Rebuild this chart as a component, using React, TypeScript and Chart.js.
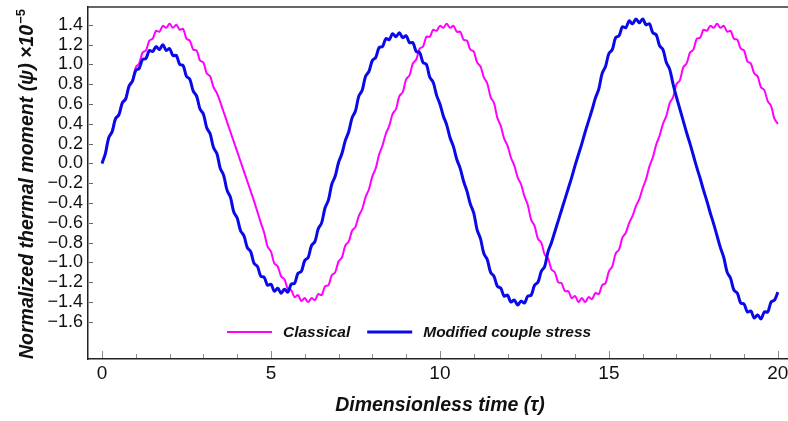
import React, { useEffect, useRef } from "react";
import { Chart, registerables } from "chart.js";

Chart.register(...registerables);

// Dimensionless time (tau)
const tau = [
  0, 0.1, 0.2, 0.3, 0.4, 0.5, 0.6, 0.7, 0.8, 0.9,
  1, 1.1, 1.2, 1.3, 1.4, 1.5, 1.6, 1.7, 1.8, 1.9,
  2, 2.1, 2.2, 2.3, 2.4, 2.5, 2.6, 2.7, 2.8, 2.9,
  3, 3.1, 3.2, 3.3, 3.4, 3.5, 3.6, 3.7, 3.8, 3.9,
  4, 4.1, 4.2, 4.3, 4.4, 4.5, 4.6, 4.7, 4.8, 4.9,
  5, 5.1, 5.2, 5.3, 5.4, 5.5, 5.6, 5.7, 5.8, 5.9,
  6, 6.1, 6.2, 6.3, 6.4, 6.5, 6.6, 6.7, 6.8, 6.9,
  7, 7.1, 7.2, 7.3, 7.4, 7.5, 7.6, 7.7, 7.8, 7.9,
  8, 8.1, 8.2, 8.3, 8.4, 8.5, 8.6, 8.7, 8.8, 8.9,
  9, 9.1, 9.2, 9.3, 9.4, 9.5, 9.6, 9.7, 9.8, 9.9,
  10, 10.1, 10.2, 10.3, 10.4, 10.5, 10.6, 10.7, 10.8, 10.9,
  11, 11.1, 11.2, 11.3, 11.4, 11.5, 11.6, 11.7, 11.8, 11.9,
  12, 12.1, 12.2, 12.3, 12.4, 12.5, 12.6, 12.7, 12.8, 12.9,
  13, 13.1, 13.2, 13.3, 13.4, 13.5, 13.6, 13.7, 13.8, 13.9,
  14, 14.1, 14.2, 14.3, 14.4, 14.5, 14.6, 14.7, 14.8, 14.9,
  15, 15.1, 15.2, 15.3, 15.4, 15.5, 15.6, 15.7, 15.8, 15.9,
  16, 16.1, 16.2, 16.3, 16.4, 16.5, 16.6, 16.7, 16.8, 16.9,
  17, 17.1, 17.2, 17.3, 17.4, 17.5, 17.6, 17.7, 17.8, 17.9,
  18, 18.1, 18.2, 18.3, 18.4, 18.5, 18.6, 18.7, 18.8, 18.9,
  19, 19.1, 19.2, 19.3, 19.4, 19.5, 19.6, 19.7, 19.8, 19.9,
  20,
];

// Classical (x 1e-5)
const classical = [
  0.0, 0.1, 0.26, 0.33, 0.46, 0.5, 0.62, 0.66, 0.79, 0.84,
  0.97, 1.01, 1.12, 1.14, 1.24, 1.26, 1.34, 1.33, 1.39, 1.37,
  1.41, 1.37, 1.4, 1.35, 1.36, 1.26, 1.24, 1.15, 1.14, 1.04,
  1.02, 0.91, 0.88, 0.77, 0.71, 0.62, 0.52, 0.42, 0.32, 0.22,
  0.12, 0.02, -0.08, -0.18, -0.28, -0.38, -0.49, -0.6, -0.7, -0.84,
  -0.89, -1.01, -1.04, -1.14, -1.17, -1.27, -1.28, -1.35, -1.33, -1.39,
  -1.36, -1.4, -1.36, -1.38, -1.32, -1.33, -1.24, -1.23, -1.13, -1.1,
  -0.99, -0.95, -0.83, -0.79, -0.68, -0.64, -0.53, -0.46, -0.34, -0.26,
  -0.13, -0.05, 0.09, 0.18, 0.3, 0.38, 0.5, 0.55, 0.68, 0.72,
  0.85, 0.89, 1.01, 1.05, 1.16, 1.18, 1.28, 1.28, 1.35, 1.34,
  1.39, 1.37, 1.41, 1.37, 1.39, 1.33, 1.33, 1.25, 1.24, 1.15,
  1.13, 1.02, 0.98, 0.87, 0.81, 0.67, 0.61, 0.46, 0.38, 0.25,
  0.18, 0.06, -0.02, -0.14, -0.21, -0.33, -0.42, -0.57, -0.63, -0.76,
  -0.8, -0.92, -0.96, -1.07, -1.1, -1.2, -1.21, -1.29, -1.29, -1.36,
  -1.34, -1.4, -1.36, -1.4, -1.35, -1.37, -1.31, -1.32, -1.23, -1.21,
  -1.09, -1.04, -0.91, -0.87, -0.75, -0.7, -0.6, -0.53, -0.43, -0.36,
  -0.25, -0.16, -0.03, 0.06, 0.19, 0.28, 0.4, 0.48, 0.61, 0.67,
  0.8, 0.84, 0.97, 1.01, 1.12, 1.15, 1.26, 1.27, 1.35, 1.34,
  1.39, 1.37, 1.41, 1.37, 1.39, 1.33, 1.34, 1.26, 1.25, 1.16,
  1.14, 1.03, 1.01, 0.91, 0.88, 0.77, 0.74, 0.63, 0.58, 0.45,
  0.4,
];

// Modified couple stress (x 1e-5)
const modified = [
  0.0, 0.1, 0.26, 0.32, 0.45, 0.49, 0.61, 0.65, 0.78, 0.83,
  0.94, 0.96, 1.05, 1.06, 1.14, 1.13, 1.18, 1.15, 1.2, 1.14,
  1.16, 1.09, 1.09, 1.0, 0.99, 0.88, 0.85, 0.73, 0.68, 0.55,
  0.5, 0.36, 0.3, 0.16, 0.1, -0.05, -0.12, -0.27, -0.34, -0.49,
  -0.55, -0.68, -0.73, -0.85, -0.89, -1.01, -1.04, -1.14, -1.15, -1.23,
  -1.22, -1.29, -1.26, -1.31, -1.27, -1.3, -1.22, -1.21, -1.11, -1.09,
  -0.98, -0.95, -0.83, -0.79, -0.66, -0.6, -0.45, -0.37, -0.21, -0.13,
  0.01, 0.1, 0.23, 0.32, 0.46, 0.53, 0.68, 0.74, 0.88, 0.93,
  1.04, 1.07, 1.17, 1.18, 1.26, 1.25, 1.31, 1.28, 1.32, 1.27,
  1.29, 1.22, 1.22, 1.13, 1.12, 1.02, 1.0, 0.87, 0.82, 0.69,
  0.6, 0.48, 0.39, 0.26, 0.17, 0.04, -0.05, -0.18, -0.28, -0.41,
  -0.5, -0.67, -0.76, -0.91, -0.97, -1.1, -1.14, -1.24, -1.26, -1.34,
  -1.33, -1.4, -1.38, -1.43, -1.39, -1.41, -1.34, -1.33, -1.23, -1.2,
  -1.09, -1.04, -0.89, -0.8, -0.69, -0.58, -0.47, -0.36, -0.25, -0.14,
  -0.02, 0.09, 0.2, 0.32, 0.43, 0.54, 0.66, 0.75, 0.91, 0.98,
  1.11, 1.15, 1.27, 1.29, 1.38, 1.37, 1.44, 1.41, 1.46, 1.42,
  1.46, 1.4, 1.41, 1.32, 1.3, 1.19, 1.15, 1.02, 0.95, 0.8,
  0.67, 0.55, 0.43, 0.31, 0.2, 0.08, -0.04, -0.15, -0.27, -0.38,
  -0.5, -0.61, -0.73, -0.85, -0.95, -1.1, -1.16, -1.28, -1.31, -1.41,
  -1.42, -1.5, -1.49, -1.56, -1.53, -1.57, -1.5, -1.5, -1.4, -1.38,
  -1.3,
];

const seriesNames = ["Classical", "Modified couple stress"];
const xMajorTicks = [0, 5, 10, 15, 20];
const xMinorTicks = [1, 2, 3, 4, 6, 7, 8, 9, 11, 12, 13, 14, 16, 17, 18, 19];
const yTicks = [1.4, 1.2, 1.0, 0.8, 0.6, 0.4, 0.2, 0.0, -0.2, -0.4, -0.6, -0.8, -1.0, -1.2, -1.4, -1.6];
const xTitle = "Dimensionless time (\u03c4)";
const yTitle = "Normalized thermal moment (\u03c8) \u00d710";
const yTitleExp = "\u22125";

const FONT = "'Liberation Sans', Arial, Helvetica, sans-serif";

const decorPlugin = {
  id: "decor",
  afterDraw(chart: any) {
    const { ctx, chartArea: a, scales } = chart;
    const x = scales.x;
    const y = scales.y;
    ctx.save();
    // top frame line
    ctx.strokeStyle = "#333";
    ctx.lineWidth = 1.5;
    ctx.beginPath();
    ctx.moveTo(a.left, a.top);
    ctx.lineTo(a.right, a.top);
    ctx.stroke();

    // inward tick marks
    ctx.strokeStyle = "#8a8a8a";
    ctx.lineWidth = 1;
    const vline = (px: number, len: number) => {
      const p = Math.round(px) + 0.5;
      ctx.beginPath();
      ctx.moveTo(p, a.bottom - 1);
      ctx.lineTo(p, a.bottom - 1 - len);
      ctx.stroke();
    };
    xMajorTicks.forEach((v) => vline(x.getPixelForValue(v), 7));
    xMinorTicks.forEach((v) => vline(x.getPixelForValue(v), 4));
    ctx.strokeStyle = "#666";
    yTicks.forEach((v) => {
      const p = Math.round(y.getPixelForValue(v)) + 0.5;
      ctx.beginPath();
      ctx.moveTo(a.left + 1, p);
      ctx.lineTo(a.left + 5, p);
      ctx.stroke();
    });

    // legend
    const ds = chart.data.datasets;
    const ly = a.bottom - 27;
    let lx = a.left + 139;
    ctx.font = `italic bold 15.5px ${FONT}`;
    ctx.textBaseline = "middle";
    ctx.textAlign = "left";
    ds.forEach((d: any) => {
      ctx.strokeStyle = d.borderColor;
      ctx.lineWidth = d.borderWidth;
      ctx.beginPath();
      ctx.moveTo(lx, ly);
      ctx.lineTo(lx + 45, ly);
      ctx.stroke();
      ctx.fillStyle = "#111";
      ctx.fillText(d.label, lx + 56, ly + 1);
      lx += 56 + ctx.measureText(d.label).width + 17;
    });

    // x title
    ctx.fillStyle = "#111";
    ctx.font = `italic bold 19.5px ${FONT}`;
    ctx.textAlign = "center";
    ctx.textBaseline = "alphabetic";
    ctx.fillText(xTitle, x.getPixelForValue(10), 411);

    // y title (rotated)
    const mainFont = `italic bold 19.5px ${FONT}`;
    const expFont = `bold 13px ${FONT}`;
    ctx.font = mainFont;
    const w1 = ctx.measureText(yTitle).width;
    ctx.font = expFont;
    const w2 = ctx.measureText(yTitleExp).width;
    const total = w1 + w2 + 1;
    const cy = (a.top + a.bottom) / 2 + 1;
    ctx.translate(33, cy);
    ctx.rotate(-Math.PI / 2);
    ctx.textAlign = "left";
    ctx.font = mainFont;
    ctx.fillText(yTitle, -total / 2, 0);
    ctx.font = expFont;
    ctx.fillText(yTitleExp, -total / 2 + w1 + 1, -8);
    ctx.restore();
  },
};

export default function App() {
  const ref = useRef<HTMLCanvasElement>(null);
  useEffect(() => {
    document.body.style.margin = "0";
    if (!ref.current) return;
    Chart.defaults.font.family = FONT;
    const chart = new Chart(ref.current, {
      type: "line",
      data: {
        datasets: [
          {
            label: seriesNames[0],
            data: tau.map((t, i) => ({ x: t, y: classical[i] })),
            borderColor: "#ff00ff",
            borderWidth: 2,
            pointRadius: 0,
            tension: 0.35,
            fill: false,
            order: 2,
          },
          {
            label: seriesNames[1],
            data: tau.map((t, i) => ({ x: t, y: modified[i] })),
            borderColor: "#0a0ae8",
            borderWidth: 3,
            pointRadius: 0,
            tension: 0.35,
            fill: false,
            order: 1,
          },
        ],
      },
      options: {
        responsive: false,
        animation: false,
        devicePixelRatio: 1,
        events: [],
        layout: { padding: { top: 7, right: 0, left: 0, bottom: 0 } },
        plugins: { legend: { display: false }, tooltip: { enabled: false } },
        scales: {
          x: {
            type: "linear",
            min: -0.414,
            max: 20.3,
            afterBuildTicks: (s: any) => {
              s.ticks = xMajorTicks.map((v) => ({ value: v }));
            },
            afterFit: (s: any) => {
              s.height = 62;
              s.paddingLeft = 0;
              s.paddingRight = 0;
            },
            grid: { display: false, drawTicks: false },
            border: { display: true, color: "#222", width: 1.5 },
            ticks: {
              autoSkip: false,
              maxRotation: 0,
              padding: 3,
              color: "#111",
              font: { size: 19 },
              callback: (v: any) => String(v),
            },
          },
          y: {
            type: "linear",
            min: -1.975,
            max: 1.58,
            afterBuildTicks: (s: any) => {
              s.ticks = yTicks.map((v) => ({ value: v }));
            },
            afterFit: (s: any) => {
              s.width = 88;
              s.paddingTop = 0;
              s.paddingBottom = 0;
            },
            grid: { display: false, drawTicks: false },
            border: { display: true, color: "#222", width: 1.5 },
            ticks: {
              autoSkip: false,
              padding: 5,
              color: "#111",
              font: { size: 18 },
              callback: (v: any) => Number(v).toFixed(1).replace("-", "\u2212"),
            },
          },
        },
      },
      plugins: [decorPlugin],
    });
    return () => chart.destroy();
  }, []);
  return (
    <div style={{ width: 788, height: 421 }}>
      <canvas ref={ref} width={788} height={421} style={{ display: "block" }} />
    </div>
  );
}
